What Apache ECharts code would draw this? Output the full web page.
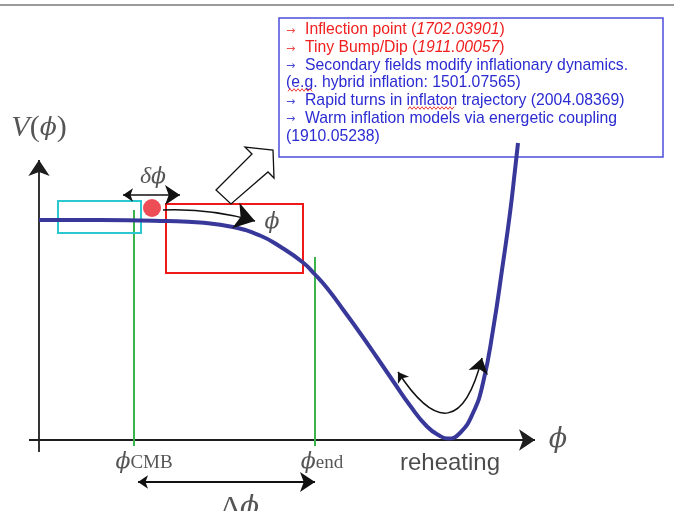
<!DOCTYPE html>
<html>
<head>
<meta charset="utf-8">
<script src="https://cdn.jsdelivr.net/npm/echarts@6/dist/echarts.min.js"></script>
<style>
html, body { margin: 0; padding: 0; background: #fff; }
#chart { width: 674px; height: 511px; }
</style>
</head>
<body>
<div id="chart"></div>
<script>
// potential V(phi) (phi units, V units)
const phiVals = [0, 1.22, 2.56, 3.22, 3.88, 4.42, 4.82, 5.28, 5.52, 5.76, 6.08, 6.42, 6.76, 7.08, 7.42, 7.76, 8.02, 8.18, 8.42, 8.68, 8.88, 9.08, 9.28, 9.42, 9.52, 9.58]
const potVals = [4.4, 4.4, 4.38, 4.35, 4.26, 4.09, 3.87, 3.55, 3.31, 3.04, 2.61, 2.14, 1.65, 1.18, 0.69, 0.27, 0.08, 0.03, 0.14, 0.54, 1.14, 2.2, 3.54, 4.54, 5.4, 5.94]

// phi_CMB / phi_end markers
const markPhi = [1.9, 5.52]
const markTop = [4.6, 3.66]

// note box lines
const noteLines = [
  { arrow: '#f04a4a', x: 305, parts: [['r', 'Inflection point ('], ['ri', '1702.03901'], ['r', ')']] },
  { arrow: '#f04a4a', x: 305, parts: [['r', 'Tiny Bump/Dip ('], ['ri', '1911.00057'], ['r', ')']] },
  { arrow: '#4a4ad8', x: 305, parts: [['b', 'Secondary fields modify inflationary dynamics.']] },
  { arrow: null, x: 286, parts: [['b', '(e.g. hybrid inflation: 1501.07565)']] },
  { arrow: '#4a4ad8', x: 305, parts: [['b', 'Rapid turns in inflaton trajectory (2004.08369)']] },
  { arrow: '#4a4ad8', x: 305, parts: [['b', 'Warm inflation models via energetic coupling']] },
  { arrow: null, x: 286, parts: [['b', '(1910.05238)']] }
]

const boxList = [
  { from: [0.38, 4.78], to: [2.04, 4.14], color: '#2cc8cf' },
  { from: [2.54, 4.72], to: [5.28, 3.34], color: '#ee1a1a' }
]

// big hollow arrow outline
const hollowArrow = [[3.54, 5.0], [4.26, 5.72], [4.12, 5.86], [4.68, 5.8], [4.7, 5.24], [4.58, 5.36], [3.84, 4.72]]

const mathFont = 'DejaVu Serif'
const ink = '#2a2a2a'

const chart = echarts.init(document.getElementById('chart'))

// wavy spell-check underline
const squiggle = (x0, x1, y) => {
  const pts = []
  for (let x = x0, k = 0; x <= x1; x += 2, k++) pts.push([x, y + (k % 2 ? -1.3 : 1.3)])
  return { type: 'polyline', z: 21, shape: { points: pts }, style: { stroke: '#e83a3a', lineWidth: 1, fill: 'none' } }
}

const noteGraphics = []
noteLines.forEach((ln, i) => {
  const cy = 30 + i * 17.7
  if (ln.arrow) {
    noteGraphics.push({
      type: 'text', x: 286, y: cy + 1, z: 20,
      style: { text: '→', fill: ln.arrow, font: '11px DejaVu Sans', verticalAlign: 'middle' }
    })
  }
  noteGraphics.push({
    type: 'text', x: ln.x, y: cy, z: 20,
    style: {
      text: ln.parts.map(p => '{' + p[0] + '|' + p[1] + '}').join(''),
      verticalAlign: 'middle',
      rich: {
        r: { fill: '#f0201e', fontSize: 15.75, fontFamily: 'Liberation Sans' },
        ri: { fill: '#f0201e', fontSize: 15.75, fontFamily: 'Liberation Sans', fontStyle: 'italic' },
        b: { fill: '#2b2bd2', fontSize: 15.75, fontFamily: 'Liberation Sans' }
      }
    }
  })
})

const phiLabel = (sub) => ({
  formatter: '{f|ϕ}{s|' + sub + '}',
  rich: {
    f: { fontSize: 22, fontFamily: mathFont, fontStyle: 'italic', color: ink },
    s: { fontSize: 19, fontFamily: 'Liberation Serif', fontStyle: 'normal', color: ink, verticalAlign: 'bottom' }
  }
})

const option = {
  animation: false,
  grid: { left: 19, top: 0, width: 550, height: 511 },
  xAxis: { type: 'value', min: -0.4, max: 10.6, show: false },
  yAxis: { type: 'value', min: -1.42, max: 8.8, show: false },
  graphic: [
    { type: 'line', shape: { x1: 0, y1: 5, x2: 674, y2: 5 }, style: { stroke: '#9a9a9a', lineWidth: 2 } },
    { type: 'rect', z: 1, shape: { x: 279, y: 18, width: 384, height: 139 }, style: { fill: 'none', stroke: '#4d4ddc', lineWidth: 1.5 } },
    ...noteGraphics,
    squiggle(288, 312, 90),
    squiggle(408, 454, 108)
  ],
  series: [
    {
      // axes with arrowheads
      type: 'lines', coordinateSystem: 'cartesian2d', z: 2,
      symbol: ['none', 'arrow'], symbolSize: [12, 16],
      lineStyle: { color: '#1e1e1e', width: 1.8, opacity: 1 },
      data: [
        { coords: [[0, -0.24], [0, 5.6]] },
        { coords: [[-0.2, 0], [9.92, 0]] }
      ]
    },
    {
      type: 'lines', coordinateSystem: 'cartesian2d', z: 2,
      lineStyle: { color: '#3cb44b', width: 2, opacity: 1 },
      data: markPhi.map((p, i) => ({ coords: [[p, -0.12], [p, markTop[i]]] }))
    },
    {
      type: 'custom', z: 3,
      renderItem: (params, api) => {
        const p1 = api.coord([api.value(0), api.value(1)])
        const p2 = api.coord([api.value(2), api.value(3)])
        return {
          type: 'rect',
          shape: { x: p1[0], y: p1[1], width: p2[0] - p1[0], height: p2[1] - p1[1] },
          style: { fill: 'none', stroke: boxList[params.dataIndex].color, lineWidth: 2 }
        }
      },
      data: boxList.map(b => [b.from[0], b.from[1], b.to[0], b.to[1]])
    },
    {
      type: 'line', z: 5, smooth: 0.5, showSymbol: false,
      lineStyle: { color: '#38389a', width: 4 },
      data: phiVals.map((p, i) => [p, potVals[i]])
    },
    {
      // double headed arrows
      type: 'lines', coordinateSystem: 'cartesian2d', z: 6,
      symbol: ['arrow', 'arrow'], symbolSize: [10, 15],
      lineStyle: { color: '#111', width: 1.5, opacity: 1 },
      data: [
        { coords: [[1.68, 4.9], [2.82, 4.9]] },
        { coords: [[1.98, -0.84], [5.52, -0.84]], lineStyle: { width: 2.2 } },
        { coords: [[7.18, 1.36], [8.86, 1.64]], lineStyle: { curveness: -1.14 } }
      ]
    },
    {
      type: 'lines', coordinateSystem: 'cartesian2d', z: 6,
      symbol: ['none', 'arrow'], symbolSize: [12, 20],
      lineStyle: { color: '#111', width: 1.5, opacity: 1, curveness: 0.08 },
      data: [{ coords: [[2.48, 4.6], [4.32, 4.38]] }]
    },
    {
      type: 'custom', z: 6,
      renderItem: (params, api) => ({
        type: 'polygon',
        shape: { points: hollowArrow.map(p => api.coord(p)) },
        style: { fill: '#fff', stroke: '#111', lineWidth: 1.3 }
      }),
      data: [[3.5, 5]]
    },
    {
      type: 'scatter', z: 7, symbolSize: 18,
      itemStyle: { color: '#e8202a' },
      data: [[2.26, 4.64]]
    },
    {
      type: 'scatter', z: 8, symbolSize: 1,
      itemStyle: { color: 'rgba(0,0,0,0)' },
      label: { show: true, position: 'inside', color: ink, fontFamily: mathFont, fontStyle: 'italic' },
      data: [
        { value: [0.0, 6.24], label: { formatter: '{v|V}{p|(}{f|ϕ}{p|)}', rich: { v: { fontSize: 30, fontStyle: 'italic', fontFamily: 'Liberation Serif', color: ink }, p: { fontSize: 30, fontStyle: 'normal', fontFamily: 'Liberation Serif', color: ink }, f: { fontSize: 25, fontStyle: 'italic', fontFamily: mathFont, color: ink } } } },
        { value: [10.38, 0], label: { formatter: 'ϕ', fontSize: 27 } },
        { value: [2.28, 5.26], label: { formatter: '{d|δ}{f|ϕ}', rich: { d: { fontSize: 24, fontStyle: 'italic', fontFamily: 'Liberation Serif', color: ink }, f: { fontSize: 22, fontStyle: 'italic', fontFamily: mathFont, color: ink } } } },
        { value: [4.66, 4.36], label: { formatter: 'ϕ', fontSize: 22 } },
        { value: [2.1, -0.44], label: phiLabel('CMB') },
        { value: [5.66, -0.44], label: phiLabel('end') },
        { value: [8.22, -0.46], label: { formatter: 'reheating', fontSize: 24, fontFamily: 'Liberation Sans', fontStyle: 'normal', color: '#1e1e1e' } },
        { value: [4.02, -1.3], label: { offset: [0, 3], formatter: '{d|Δ}{f|ϕ}', rich: { d: { fontSize: 30, fontStyle: 'normal', fontFamily: 'Liberation Serif', color: ink }, f: { fontSize: 28, fontStyle: 'italic', fontFamily: mathFont, color: ink } } } }
      ]
    }
  ]
}

chart.setOption(option)
window.addEventListener('resize', () => chart.resize())
</script>
</body>
</html>
